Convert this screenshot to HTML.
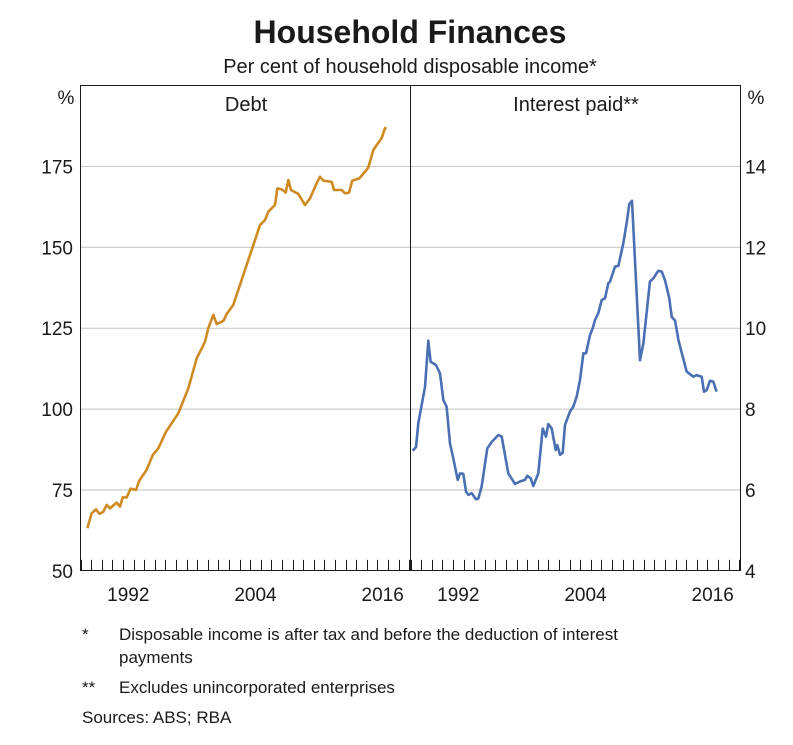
<!DOCTYPE html>
<html><head><meta charset="utf-8"><style>
body{margin:0;background:#fff;}
svg{display:block;font-family:"Liberation Sans",Arial,sans-serif;}
</style></head><body>
<svg id="chart" width="793" height="745" viewBox="0 0 793 745" xmlns="http://www.w3.org/2000/svg">
<text x="410" y="43" text-anchor="middle" font-size="32" font-weight="bold" fill="#1a1a1a">Household Finances</text>
<text x="410" y="73" text-anchor="middle" font-size="20" fill="#1a1a1a">Per cent of household disposable income*</text>
<g id="grid"></g>
<g id="lines"></g>
<rect x="80.5" y="85.5" width="660" height="485" fill="none" stroke="#1a1a1a" stroke-width="1"/>
<line x1="410.5" y1="85" x2="410.5" y2="571" stroke="#1a1a1a"/>
<g id="axes" font-size="19" fill="#1a1a1a"></g>
<text x="246" y="111" text-anchor="middle" font-size="20" fill="#1a1a1a">Debt</text>
<text x="576" y="111" text-anchor="middle" font-size="20" fill="#1a1a1a">Interest paid**</text>
<text x="66" y="104" text-anchor="middle" font-size="19" fill="#1a1a1a">%</text>
<text x="756" y="104" text-anchor="middle" font-size="19" fill="#1a1a1a">%</text>
<g font-size="17" fill="#1a1a1a">
<text x="82" y="640">*</text>
<text x="119" y="640">Disposable income is after tax and before the deduction of interest</text>
<text x="119" y="663">payments</text>
<text x="82" y="693">**</text>
<text x="119" y="693">Excludes unincorporated enterprises</text>
<text x="82" y="723">Sources:  ABS; RBA</text>
</g>
</svg>
<script>
const debtYears=[1988.64,1989.04,1989.45,1989.77,1990.14,1990.46,1990.77,1991.40,1991.72,1991.97,1992.35,1992.72,1993.23,1993.54,1994.23,1994.80,1995.33,1996.06,1997.22,1998.16,1998.95,1999.74,2000.05,2000.52,2000.84,2001.47,2001.78,2002.41,2003.04,2004.14,2004.92,2005.40,2005.71,2006.34,2006.56,2006.97,2007.35,2007.60,2007.85,2008.54,2009.17,2009.64,2010.27,2010.58,2010.90,2011.69,2011.91,2012.63,2012.94,2013.32,2013.63,2014.29,2014.92,2015.14,2015.62,2015.93,2016.40,2016.72,2016.87];
const debtValues=[63.2,67.8,69.0,67.6,68.3,70.4,69.3,71.1,69.9,72.7,72.7,75.4,75.0,77.9,81.2,85.8,87.9,93.0,98.7,106.4,115.7,120.8,125.0,129.1,126.3,127.3,129.4,132.2,138.4,149.2,156.9,158.4,161.0,163.1,168.2,167.9,166.9,170.8,167.7,166.5,163.1,165.1,169.8,171.8,170.6,170.2,167.7,167.7,166.7,166.9,170.6,171.3,173.7,174.7,180.1,181.6,183.7,186.8,186.9];
const intYears=[1988.20,1988.51,1988.73,1989.36,1989.67,1989.89,1990.40,1990.77,1991.09,1991.40,1991.72,1992.03,1992.44,1992.66,1992.97,1993.23,1993.45,1993.76,1994.17,1994.39,1994.70,1995.24,1995.65,1996.28,1996.59,1997.22,1997.85,1998.32,1998.79,1999.01,1999.33,1999.58,2000.05,2000.46,2000.77,2000.99,2001.31,2001.69,2001.84,2002.09,2002.35,2002.57,2003.04,2003.35,2003.67,2003.98,2004.30,2004.55,2004.92,2005.18,2005.40,2005.71,2006.03,2006.34,2006.65,2006.81,2007.28,2007.60,2008.07,2008.38,2008.63,2008.89,2009.64,2009.96,2010.58,2010.90,2011.37,2011.69,2012.00,2012.41,2012.63,2012.94,2013.26,2014.04,2014.67,2014.99,2015.46,2015.68,2015.93,2016.25,2016.56,2016.87];
const intValues=[6.97,7.06,7.65,8.55,9.69,9.17,9.09,8.88,8.22,8.06,7.15,6.78,6.25,6.41,6.40,5.96,5.88,5.92,5.77,5.79,6.08,7.03,7.19,7.36,7.32,6.41,6.15,6.21,6.25,6.35,6.29,6.10,6.41,7.52,7.32,7.63,7.52,6.99,7.11,6.87,6.92,7.61,7.94,8.06,8.31,8.72,9.38,9.38,9.83,10.00,10.20,10.37,10.70,10.74,11.11,11.15,11.52,11.54,12.10,12.59,13.07,13.15,9.21,9.63,11.15,11.23,11.42,11.40,11.19,10.74,10.28,10.19,9.71,8.93,8.80,8.84,8.80,8.43,8.47,8.70,8.68,8.43];
const leftTicks=[50,75,100,125,150,175];
const rightTicks=[4,6,8,10,12,14];
const yearLabels=[1992,2004,2016];

const NS='http://www.w3.org/2000/svg';
const yTop=85.5,yBot=570.9,yrW=10.6,startYear=1988;
function xL(y){return 80.6+(y-startYear)*yrW;}
function xR(y){return 410.6+(y-startYear)*yrW;}
function yL(v){return yBot-(v-50)/150*(yBot-yTop);}
function yR(v){return yBot-(v-4)/12*(yBot-yTop);}
function mk(tag,attrs,parent){const e=document.createElementNS(NS,tag);for(const k in attrs)e.setAttribute(k,attrs[k]);parent.appendChild(e);return e;}
const grid=document.getElementById('grid'),axes=document.getElementById('axes'),lines=document.getElementById('lines');
leftTicks.forEach(v=>{
  if(v>50){const g=mk('line',{x1:80,x2:741,y1:yL(v),y2:yL(v),stroke:'#c2c2c2','stroke-width':1},grid);
  
  }
  const t=mk('text',{x:73,y:yL(v)+7,'text-anchor':'end'},axes);t.textContent=v;
  
  
});
rightTicks.forEach(v=>{
  const t=mk('text',{x:745,y:yR(v)+7,'text-anchor':'start'},axes);t.textContent=v;
  
  
});
for(let i=0;i<=31;i++){
  [xL,xR].forEach(f=>{const x=Math.round(f(startYear+i))+0.5;
    if(x<741&&x>81){const tk=mk('line',{x1:x,x2:x,y1:yBot,y2:yBot-11,stroke:'#1a1a1a','stroke-width':1},axes);
    
    }});
}
yearLabels.forEach(y=>{
  [xL,xR].forEach(f=>{const t=mk('text',{x:f(y+0.5),y:601,'text-anchor':'middle'},axes);t.textContent=y;
  
  });
});
function path(xs,vs,fx,fy){return xs.map((x,i)=>(i?'L':'M')+fx(x).toFixed(1)+','+fy(vs[i]).toFixed(1)).join('');}
const d=mk('path',{d:path(debtYears,debtValues,xL,yL),fill:'none',stroke:'#d08a24','stroke-width':2.6,'stroke-linejoin':'round'},lines);


const ip=mk('path',{d:path(intYears,intValues,xR,yR),fill:'none',stroke:'#4a6fb3','stroke-width':2.6,'stroke-linejoin':'round'},lines);


</script>
</body></html>
